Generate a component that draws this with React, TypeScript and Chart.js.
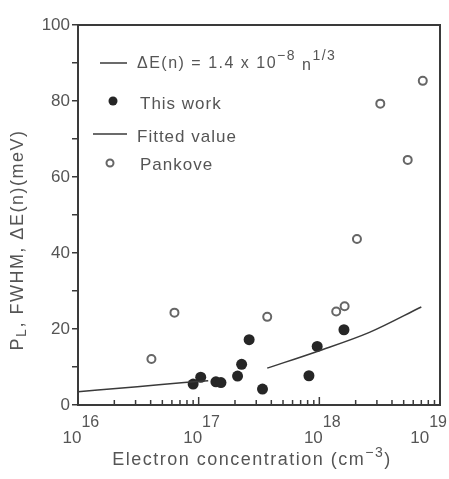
import React, { useEffect, useRef } from "react";
import { Chart, registerables } from "chart.js";

Chart.register(...registerables);

// ---- data ----
const thisWorkN = [9.0e16, 1.04e17, 1.39e17, 1.53e17, 2.1e17, 2.27e17, 2.62e17, 3.38e17, 8.2e17, 9.6e17, 1.6e18];
const thisWorkMeV = [5.5, 7.3, 6.1, 5.9, 7.6, 10.7, 17.2, 4.2, 7.7, 15.4, 19.8];

const pankoveN = [4.06e16, 6.3e16, 3.7e17, 1.38e18, 1.62e18, 2.05e18, 3.2e18, 5.4e18, 7.2e18];
const pankoveMeV = [12.1, 24.3, 23.2, 24.6, 26.0, 43.7, 79.3, 64.5, 85.3];

const fittedN = [1e16, 3.1e16, 7.6e16, 1.2e17, 2.0e17, 3.7e17, 9.6e17, 2.6e18, 7.0e18];
const fittedMeV: (number | null)[] = [3.5, 4.8, 5.9, 6.4, null, 9.7, 14.1, 19.1, 25.8];

const decadeExponents = [16, 17, 18, 19];
const minorMultipliers = [2, 3, 4, 5, 6, 7, 8, 9];
const yMin = 0;
const yMax = 100;
const yTickStep = 10;
const yLabelStep = 20;

const legendFormula = { base: "ΔE(n) = 1.4 x 10", exp1: "−8", mid: " n", exp2: "1/3" };
const legendThisWork = "This work";
const legendFitted = "Fitted value";
const legendPankove = "Pankove";
const xTitle = { a: "Electron concentration (cm", exp: "−3", b: ")" };
const yTitle = { a: "P", sub: "L", b: ", FWHM, ΔE(n)(meV)" };

// ---- styles ----
const FONT = "'Liberation Sans', 'DejaVu Sans', sans-serif";
const TEXT = "#555";
const AXIS = "#3a3a3a";
const DOT = "#262626";
const OPEN = "#666";

type Seg = { t: string; size: number; dy?: number };

function richWidth(ctx: CanvasRenderingContext2D, segs: Seg[]) {
  let w = 0;
  for (const s of segs) {
    ctx.font = `${s.size}px ${FONT}`;
    w += ctx.measureText(s.t).width;
  }
  return w;
}

function drawRich(ctx: CanvasRenderingContext2D, segs: Seg[], x: number, y: number) {
  let cx = x;
  for (const s of segs) {
    ctx.font = `${s.size}px ${FONT}`;
    ctx.fillText(s.t, cx, y + (s.dy || 0));
    cx += ctx.measureText(s.t).width;
  }
}

const decoPlugin = {
  id: "deco",
  afterDraw(chart: any) {
    const { ctx, chartArea: a, scales } = chart;
    const xs = scales.x;
    ctx.save();
    // frame
    ctx.strokeStyle = AXIS;
    ctx.lineWidth = 2;
    ctx.strokeRect(a.left, a.top, a.right - a.left, a.bottom - a.top);

    // x ticks (pointing inward)
    ctx.lineWidth = 1.5;
    const vline = (px: number, len: number) => {
      ctx.beginPath();
      ctx.moveTo(px, a.bottom);
      ctx.lineTo(px, a.bottom - len);
      ctx.stroke();
    };
    decadeExponents.forEach((e, i) => {
      const dec = Math.pow(10, e);
      vline(xs.getPixelForValue(dec), 8);
      if (i < decadeExponents.length - 1) {
        minorMultipliers.forEach((m) => vline(xs.getPixelForValue(m * dec), 5));
      }
    });

    // x tick labels 10^n
    ctx.fillStyle = TEXT;
    ctx.textBaseline = "middle";
    ctx.textAlign = "left";
    (ctx as any).letterSpacing = "0px";
    decadeExponents.forEach((e) => {
      const px = xs.getPixelForValue(Math.pow(10, e));
      const segs: Seg[] = [
        { t: "10", size: 17 },
        { t: String(e), size: 16, dy: -15 },
      ];
      const w = richWidth(ctx, segs);
      ctx.font = `17px ${FONT}`;
      const w10 = ctx.measureText("10").width;
      let left = px - 6 - w10 / 2;
      if (left + w > chart.width - 2) left = chart.width - 2 - w;
      drawRich(ctx, segs, left, a.bottom + 33);
    });

    // x title
    (ctx as any).letterSpacing = "1.5px";
    const xSegs: Seg[] = [
      { t: xTitle.a, size: 18 },
      { t: xTitle.exp, size: 14, dy: -7 },
      { t: xTitle.b, size: 18 },
    ];
    const xw = richWidth(ctx, xSegs);
    drawRich(ctx, xSegs, 252 - xw / 2, 460);

    // y title
    ctx.save();
    ctx.translate(18, 240);
    ctx.rotate(-Math.PI / 2);
    const ySegs: Seg[] = [
      { t: yTitle.a, size: 18 },
      { t: yTitle.sub, size: 14, dy: 4 },
      { t: yTitle.b, size: 18 },
    ];
    const yw = richWidth(ctx, ySegs);
    drawRich(ctx, ySegs, -yw / 2, 0);
    ctx.restore();

    // legend
    const L = a.left;
    const T = a.top;
    ctx.strokeStyle = AXIS;
    ctx.lineWidth = 1.5;
    const hline = (x1: number, x2: number, y: number) => {
      ctx.beginPath();
      ctx.moveTo(x1, y);
      ctx.lineTo(x2, y);
      ctx.stroke();
    };
    (ctx as any).letterSpacing = "1.5px";
    // row 1
    hline(L + 22, L + 49, T + 38);
    drawRich(
      ctx,
      [
        { t: legendFormula.base, size: 16 },
        { t: legendFormula.exp1, size: 14, dy: -8 },
        { t: legendFormula.mid, size: 16, dy: 2 },
        { t: legendFormula.exp2, size: 14, dy: -8 },
      ],
      L + 59,
      T + 39
    );
    (ctx as any).letterSpacing = "1px";
    // row 2
    ctx.fillStyle = DOT;
    ctx.beginPath();
    ctx.arc(L + 35, T + 76, 4.5, 0, Math.PI * 2);
    ctx.fill();
    ctx.fillStyle = TEXT;
    drawRich(ctx, [{ t: legendThisWork, size: 17 }], L + 62, T + 79);
    // row 3
    hline(L + 15, L + 49, T + 109);
    drawRich(ctx, [{ t: legendFitted, size: 17 }], L + 59, T + 112);
    // row 4
    ctx.strokeStyle = OPEN;
    ctx.lineWidth = 2;
    ctx.beginPath();
    ctx.arc(L + 32, T + 138, 3.5, 0, Math.PI * 2);
    ctx.stroke();
    drawRich(ctx, [{ t: legendPankove, size: 17 }], L + 62, T + 140);

    ctx.restore();
  },
};

export default function App() {
  const ref = useRef<HTMLCanvasElement | null>(null);

  useEffect(() => {
    if (!ref.current) return;
    const chart = new Chart(ref.current, {
      type: "scatter",
      data: {
        datasets: [
          {
            label: "Fitted value",
            data: fittedN.map((n, i) => ({ x: n, y: fittedMeV[i] as any })),
            showLine: true,
            spanGaps: false,
            borderColor: AXIS,
            borderWidth: 1.5,
            pointRadius: 0,
            cubicInterpolationMode: "monotone",
          } as any,
          {
            label: "This work",
            data: thisWorkN.map((n, i) => ({ x: n, y: thisWorkMeV[i] })),
            pointRadius: 5.5,
            pointBackgroundColor: DOT,
            pointBorderColor: DOT,
            pointBorderWidth: 0,
          },
          {
            label: "Pankove",
            data: pankoveN.map((n, i) => ({ x: n, y: pankoveMeV[i] })),
            pointRadius: 4,
            pointBackgroundColor: "rgba(255,255,255,0)",
            pointBorderColor: OPEN,
            pointBorderWidth: 2,
          },
        ],
      },
      options: {
        animation: false,
        responsive: false,
        layout: { padding: { top: 25, right: 9, left: 0, bottom: 0 } },
        plugins: { legend: { display: false }, tooltip: { enabled: false } },
        scales: {
          x: {
            type: "logarithmic",
            min: Math.pow(10, decadeExponents[0]),
            max: Math.pow(10, decadeExponents[decadeExponents.length - 1]),
            grid: { display: false },
            border: { display: false },
            ticks: { display: false },
            afterFit: (s: any) => {
              s.height = 74;
            },
          },
          y: {
            min: yMin,
            max: yMax,
            border: { display: false },
            grid: {
              drawOnChartArea: false,
              drawTicks: true,
              tickLength: 6,
              color: AXIS,
              lineWidth: 1.5,
            },
            ticks: {
              stepSize: yTickStep,
              color: TEXT,
              padding: 2,
              font: { family: FONT, size: 17 },
              callback: (v: any) => (Number(v) % yLabelStep === 0 ? String(v) : ""),
            },
            afterFit: (s: any) => {
              s.width = 78;
            },
          },
        },
      },
      plugins: [decoPlugin],
    });
    return () => chart.destroy();
  }, []);

  return (
    <div style={{ position: "fixed", left: 0, top: 0, width: 449, height: 479, background: "#fff" }}>
      <canvas ref={ref} width={449} height={479} style={{ display: "block" }} />
    </div>
  );
}
